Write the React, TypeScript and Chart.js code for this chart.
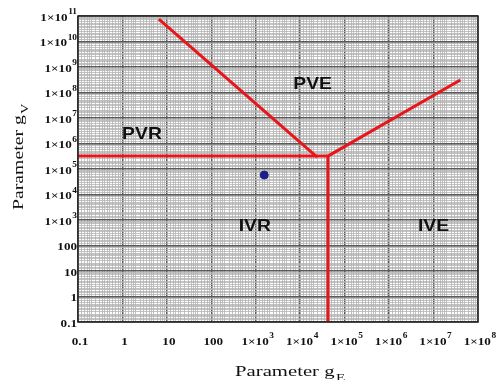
import React, { useEffect, useRef } from "react";
import { Chart, registerables } from "chart.js";

Chart.register(...registerables);

// Axis ranges (decades)
const xDecades = [-1, 0, 1, 2, 3, 4, 5, 6, 7, 8];
const yDecades = [-1, 0, 1, 2, 3, 4, 5, 6, 7, 8, 9, 10, 11];
const gridSteps = [1, 1.2, 1.4, 1.6, 1.8, 2, 2.5, 3, 3.5, 4, 4.5, 5, 6, 7, 8, 9];

// Boundary lines
const pvrLineX = [0.1, 4.2e4];
const pvrLineY = [3.2e5, 3.2e5];
const diagLineX = [6.6, 2.4e4];
const diagLineY = [7.6e10, 2.9e5];
const vertLineX = [4.2e4, 4.2e4];
const vertLineY = [3.2e5, 0.1];
const rightLineX = [4.2e4, 4e7];
const rightLineY = [3.2e5, 3.1e8];

// Operating point
const pointX = [1.55e3];
const pointY = [5.8e4];

// Region labels
const regionNames = ["PVR", "PVE", "IVR", "IVE"];
const regionX = [2.75, 1.9e4, 950, 1e7];
const regionY = [2.2e6, 2.1e8, 5.8e2, 5.8e2];

const xTitle = "Parameter g";
const xTitleSub = "E";
const yTitle = "Parameter g";
const yTitleSub = "V";

function tickLabel(e: number): [string, string] {
  if (e === -1) return ["0.1", ""];
  if (e === 0) return ["1", ""];
  if (e === 1) return ["10", ""];
  if (e === 2) return ["100", ""];
  return ["1\u00d710", String(e)];
}

function buildTicks(decs: number[]) {
  const vals: number[] = [];
  for (let i = 0; i < decs.length; i++) {
    const p = Math.pow(10, decs[i]);
    if (i === decs.length - 1) {
      vals.push(p);
    } else {
      gridSteps.forEach((s) => vals.push(s * p));
    }
  }
  return vals;
}

const isDecade = (v: number) => {
  const l = Math.log10(v);
  return Math.abs(l - Math.round(l)) < 1e-9;
};

const pts = (xs: number[], ys: number[]) => xs.map((x, i) => ({ x, y: ys[i] }));

export default function App() {
  const ref = useRef<HTMLCanvasElement | null>(null);
  useEffect(() => {
    if (!ref.current) return;
    const red = "#e8161b";
    const lineDs = (xs: number[], ys: number[]) => ({
      data: pts(xs, ys),
      showLine: true,
      borderColor: red,
      borderWidth: 3,
      pointRadius: 0,
      fill: false,
    });

    const labelPlugin = {
      id: "labels",
      afterDraw(chart: any) {
        const ctx = chart.ctx as CanvasRenderingContext2D;
        const xs = chart.scales.x;
        const ys = chart.scales.y;
        const ca = chart.chartArea;
        ctx.save();
        // border
        ctx.strokeStyle = "#222";
        ctx.lineWidth = 1.5;
        ctx.strokeRect(ca.left, ca.top, ca.right - ca.left, ca.bottom - ca.top);

        const stretch = 1.25;
        const baseFont = "bold 10.5px 'Liberation Serif', serif";
        const supFont = "bold 7.5px 'Liberation Serif', serif";
        const drawLabel = (base: string, sup: string, x: number, y: number, align: "right" | "center") => {
          ctx.font = baseFont;
          const bw = ctx.measureText(base).width;
          ctx.font = supFont;
          const sw = sup ? ctx.measureText(sup).width + 0.5 : 0;
          const total = (bw + sw) * stretch;
          const left = align === "right" ? x - total : x - total / 2;
          ctx.save();
          ctx.translate(left, y);
          ctx.scale(stretch, 1);
          ctx.fillStyle = "#111";
          ctx.textAlign = "left";
          ctx.textBaseline = "middle";
          ctx.font = baseFont;
          ctx.fillText(base, 0, 2);
          if (sup) {
            ctx.font = supFont;
            ctx.fillText(sup, bw + 0.5, -3.5);
          }
          ctx.restore();
        };
        yDecades.forEach((e) => {
          const [b, s] = tickLabel(e);
          drawLabel(b, s, ca.left - 1, ys.getPixelForValue(Math.pow(10, e)), "right");
        });
        xDecades.forEach((e) => {
          const [b, s] = tickLabel(e);
          drawLabel(b, s, xs.getPixelForValue(Math.pow(10, e)) + 2, ca.bottom + 18, "center");
        });

        // region labels
        ctx.font = "bold 16.5px 'Liberation Sans', Arial, sans-serif";
        ctx.fillStyle = "#111";
        ctx.textAlign = "center";
        ctx.textBaseline = "middle";
        regionNames.forEach((n, i) => {
          ctx.save();
          ctx.translate(xs.getPixelForValue(regionX[i]), ys.getPixelForValue(regionY[i]));
          ctx.scale(1.17, 1);
          ctx.fillText(n, 0, 0);
          ctx.restore();
        });

        // axis titles
        const tFont = "15px 'Liberation Serif', serif";
        const sFont = "11px 'Liberation Serif', serif";
        ctx.textAlign = "left";
        ctx.textBaseline = "alphabetic";
        ctx.font = tFont;
        const pw = ctx.measureText("Parameter").width;
        const tStretch = 84 / pw;
        // x title
        ctx.save();
        ctx.translate(235, 376);
        ctx.scale(tStretch, 1);
        ctx.font = tFont;
        ctx.fillText(xTitle, 0, 0);
        const xw = ctx.measureText(xTitle).width;
        ctx.font = sFont;
        ctx.fillText(xTitleSub, xw + 1, 5);
        ctx.restore();
        // y title
        ctx.save();
        ctx.translate(23, 210);
        ctx.rotate(-Math.PI / 2);
        ctx.scale(80 / pw, 1);
        ctx.font = tFont;
        ctx.fillText(yTitle, 0, 0);
        const yw = ctx.measureText(yTitle).width;
        ctx.font = sFont;
        ctx.fillText(yTitleSub, yw + 1, 5);
        ctx.restore();
        ctx.restore();
      },
    };

    const gridOpts = {
      drawTicks: false,
      color: (c: any) => (c.tick && isDecade(c.tick.value) ? "#5a5a5a" : "#b4b4b4"),
      lineWidth: (c: any) => (c.tick && isDecade(c.tick.value) ? 1.5 : 0.8),
    };

    const chart = new Chart(ref.current, {
      type: "scatter",
      data: {
        datasets: [
          lineDs(pvrLineX, pvrLineY),
          lineDs(diagLineX, diagLineY),
          lineDs(vertLineX, vertLineY),
          lineDs(rightLineX, rightLineY),
          {
            data: pts(pointX, pointY),
            pointRadius: 4,
            pointBackgroundColor: "#1b1f8a",
            pointBorderColor: "#1b1f8a",
            showLine: false,
          },
        ],
      },
      options: {
        animation: false,
        responsive: true,
        maintainAspectRatio: false,
        layout: { padding: { left: 78, right: 18, top: 16, bottom: 58 } },
        plugins: { legend: { display: false }, tooltip: { enabled: false } },
        scales: {
          x: {
            type: "logarithmic",
            min: 0.1,
            max: 1e8,
            afterBuildTicks: (s: any) => {
              s.ticks = buildTicks(xDecades).map((v) => ({ value: v }));
            },
            ticks: { display: false },
            grid: gridOpts,
            border: { display: false },
          },
          y: {
            type: "logarithmic",
            min: 0.1,
            max: 1e11,
            afterBuildTicks: (s: any) => {
              s.ticks = buildTicks(yDecades).map((v) => ({ value: v }));
            },
            ticks: { display: false },
            grid: gridOpts,
            border: { display: false },
          },
        },
      } as any,
      plugins: [labelPlugin],
    });
    return () => chart.destroy();
  }, []);

  return (
    <div style={{ position: "fixed", left: 0, top: 0, width: 496, height: 380, background: "#fff" }}>
      <canvas ref={ref} />
    </div>
  );
}
